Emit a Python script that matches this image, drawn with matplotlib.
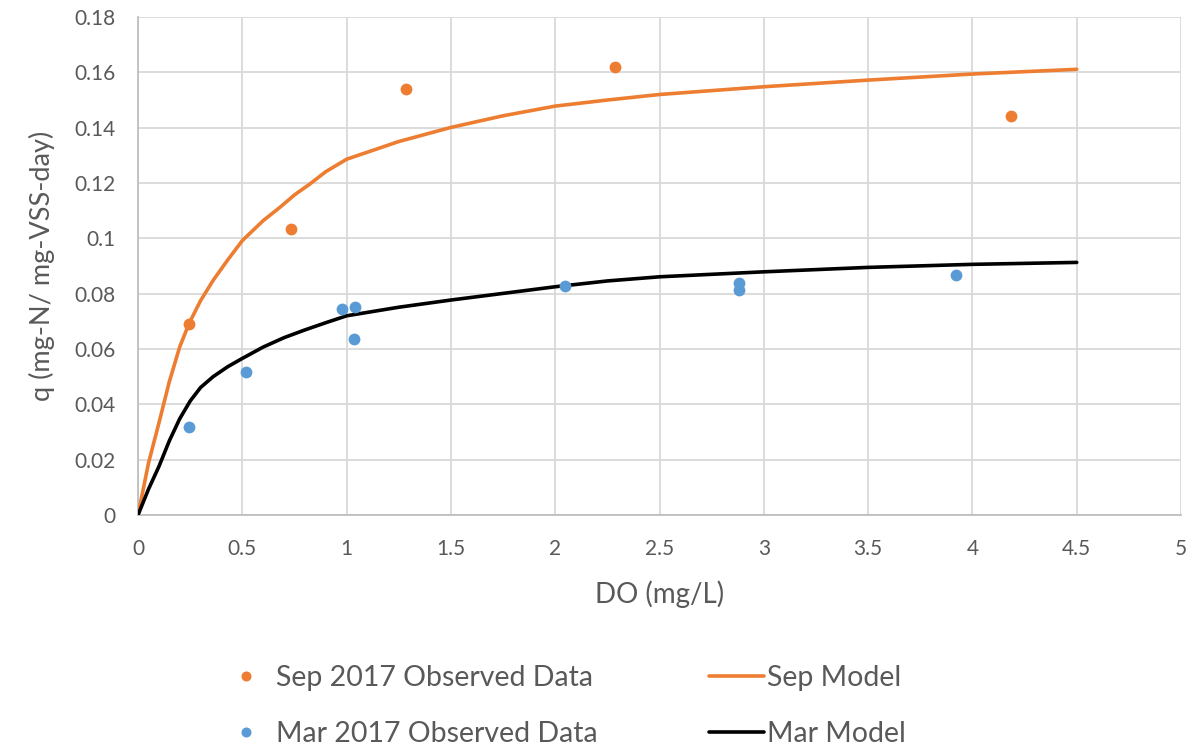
import matplotlib.pyplot as plt
import numpy as np

# observed data
sep_do = [0.245, 0.734, 1.283, 2.286, 4.187]
sep_q = [0.0692, 0.1032, 0.1539, 0.1619, 0.1443]

mar_do = [0.245, 0.517, 0.976, 1.04, 1.033, 2.046, 2.879, 2.879, 3.923]
mar_q = [0.0319, 0.0518, 0.0746, 0.0752, 0.0636, 0.0829, 0.0837, 0.0813, 0.0867]

# model curves
sep_model_do = [0, 0.05, 0.1, 0.15, 0.2, 0.245, 0.3, 0.36, 0.43, 0.5, 0.6, 0.68,
                0.75, 0.823, 0.9, 1.0, 1.25, 1.5, 1.75, 2.0, 2.25, 2.5, 3.0,
                3.5, 4.0, 4.5]
sep_model_q = [0, 0.0187, 0.0332, 0.0482, 0.0608, 0.0693, 0.0775, 0.0848, 0.0922,
               0.0992, 0.1064, 0.1112, 0.1157, 0.1196, 0.1241, 0.1286, 0.135, 0.1401,
               0.1443, 0.1478, 0.15, 0.152, 0.1548, 0.1572, 0.1594, 0.1611]

mar_model_do = [0, 0.05, 0.1, 0.15, 0.2, 0.25, 0.3, 0.36, 0.43, 0.5, 0.6, 0.7,
                0.8, 0.9, 1.0, 1.25, 1.5, 1.75, 2.0, 2.25, 2.5, 3.0, 3.5, 4.0, 4.5]
mar_model_q = [0, 0.0093, 0.0175, 0.0268, 0.0348, 0.0412, 0.0461, 0.05, 0.0536,
               0.0566, 0.0607, 0.0641, 0.0669, 0.0695, 0.072, 0.0751, 0.0777,
               0.0801, 0.0825, 0.0846, 0.0861, 0.0879, 0.0895, 0.0906, 0.0913]

x_ticks = np.arange(0, 5.01, 0.5)
y_ticks = np.arange(0, 0.1801, 0.02)

ORANGE = "#ED7D31"
BLUE = "#5B9BD5"
GREY_TXT = "#595959"
GRID = "#D9D9D9"

plt.rcParams["font.family"] = ["Lato", "DejaVu Sans"]

fig = plt.figure(figsize=(11.92, 7.47), dpi=100)
ax = fig.add_axes([0.1158, 0.3106, 0.8750, 0.6666])

l_sep_obs, = ax.plot(sep_do, sep_q, "o", color=ORANGE, ms=8.5, mew=0,
                     label="Sep 2017 Observed Data", zorder=4)
l_mar_obs, = ax.plot(mar_do, mar_q, "o", color=BLUE, ms=8.5, mew=0,
                     label="Mar 2017 Observed Data", zorder=4)
l_sep_mod, = ax.plot(sep_model_do, sep_model_q, color=ORANGE, lw=2.6,
                     solid_joinstyle="round", solid_capstyle="round",
                     label="Sep Model", zorder=3)
l_mar_mod, = ax.plot(mar_model_do, mar_model_q, color="black", lw=2.6,
                     solid_joinstyle="round", solid_capstyle="round",
                     label="Mar Model", zorder=3)

ax.set_xlim(0, 5)
ax.set_ylim(0, 0.18)
ax.set_xticks(x_ticks)
ax.set_xticklabels([f"{v:g}" for v in x_ticks])
ax.set_yticks(y_ticks)
ax.set_yticklabels([f"{round(v, 2):g}" for v in y_ticks])
ax.tick_params(length=0, labelsize=15, colors=GREY_TXT)
ax.tick_params(axis="y", pad=16)
ax.tick_params(axis="x", pad=17)
ax.grid(True, color=GRID, lw=1.3)
ax.set_axisbelow(True)
for side in ["top", "right"]:
    ax.spines[side].set_visible(False)
for side in ["left", "bottom"]:
    ax.spines[side].set_color("#BFBFBF")
    ax.spines[side].set_linewidth(1.3)

ax.set_xlabel("DO (mg/L)", fontsize=20, color=GREY_TXT, labelpad=16)
ax.set_ylabel("q (mg-N/ mg-VSS-day)", fontsize=19.5, color=GREY_TXT, labelpad=14)

fig.legend(handles=[l_sep_obs, l_mar_obs, l_sep_mod, l_mar_mod],
           loc="center", bbox_to_anchor=(0.4715, 0.055), ncol=2, frameon=False,
           fontsize=20.5, labelcolor=GREY_TXT, handlelength=1.93, handletextpad=0.1,
           columnspacing=3.9, labelspacing=1.08, markerscale=0.85)

fig.savefig("out.png", dpi=100)
